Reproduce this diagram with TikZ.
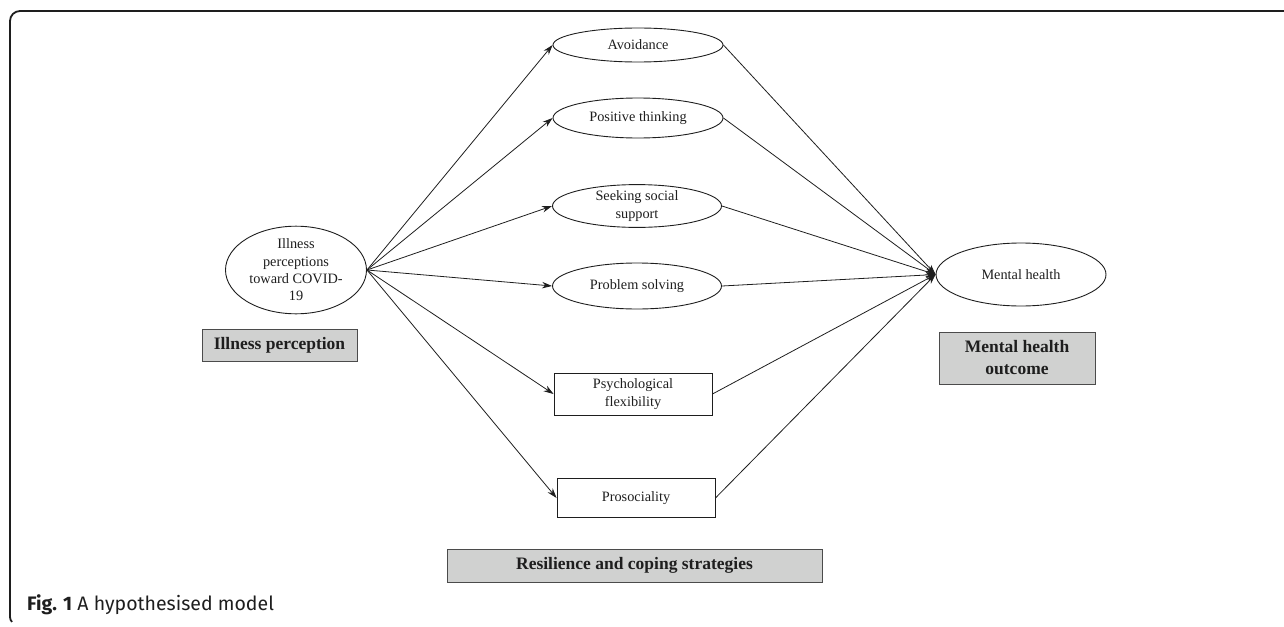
\documentclass[tikz,border=0pt]{standalone}
\usepackage{fontspec}
\setmainfont{Liberation Serif}
\newfontfamily\capfont{Fira Sans}
\usetikzlibrary{arrows.meta,shapes.geometric}
\definecolor{boxgray}{HTML}{D0D1D0}
\definecolor{ink}{HTML}{1E1E1E}
\begin{document}
\begin{tikzpicture}[x=1pt,y=-1pt,
  every node/.style={text=ink},
  ell/.style={ellipse,draw=ink,line width=0.9pt,inner sep=0pt,align=center,font=\fontsize{14.3}{17.3}\selectfont},
  rbox/.style={rectangle,draw=ink,line width=0.9pt,inner sep=0pt,align=center,font=\fontsize{14.3}{17.3}\selectfont},
  gbox/.style={rectangle,draw=ink!80,fill=boxgray,line width=0.9pt,inner sep=0pt,align=center,font=\bfseries\fontsize{17.5}{22}\selectfont},
  arr/.style={draw=ink,line width=0.8pt,-{Stealth[length=10pt,width=6.5pt]}}]
\useasboundingbox (0,0) rectangle (1284,626);
% frame
\draw[ink,line width=1.8pt] (1284,11) -- (20,11) arc[start angle=270,end angle=180,radius=10] -- (10,617) arc[start angle=180,end angle=135,radius=7];
% nodes
\node[ell,minimum width=141,minimum height=80] (ip) at (296,270) {Illness\\perceptions\\toward COVID-\\19};
\node[gbox,minimum width=155,minimum height=32] (ipl) at (279.5,345) {Illness perception};
\node[ell,minimum width=170,minimum height=34] (av) at (638,45) {Avoidance};
\node[ell,minimum width=170,minimum height=40] (pt) at (638,118) {Positive thinking};
\node[ell,minimum width=169,minimum height=42] (ss) at (637,206) {Seeking social\\support};
\node[ell,minimum width=169,minimum height=46] (ps) at (637,286) {Problem solving};
\node[rbox,minimum width=158,minimum height=42] (pf) at (633,394) {Psychological\\flexibility};
\node[rbox,minimum width=158,minimum height=39] (pr) at (636,498) {Prosociality};
\node[gbox,minimum width=375,minimum height=33] (rcl) at (634.5,565.5) {Resilience and coping strategies};
\node[ell,minimum width=170,minimum height=63] (mh) at (1021,274.5) {Mental health};
\node[gbox,minimum width=156,minimum height=52] (mhl) at (1017,358) {Mental health\\outcome};
% connectors
\foreach \n in {av,pt,ss,ps,pf,pr}{
  \draw[arr] (ip.east) -- (\n.west);
  \draw[arr] (\n.east) -- (mh.west);
}
% caption
\node[anchor=base west,inner sep=0pt,font=\capfont\fontsize{19.5}{22}\selectfont,text=ink] (cap) at (27,610) {\textbf{Fig. 1} A hypothesised model};
\end{tikzpicture}
\end{document}
